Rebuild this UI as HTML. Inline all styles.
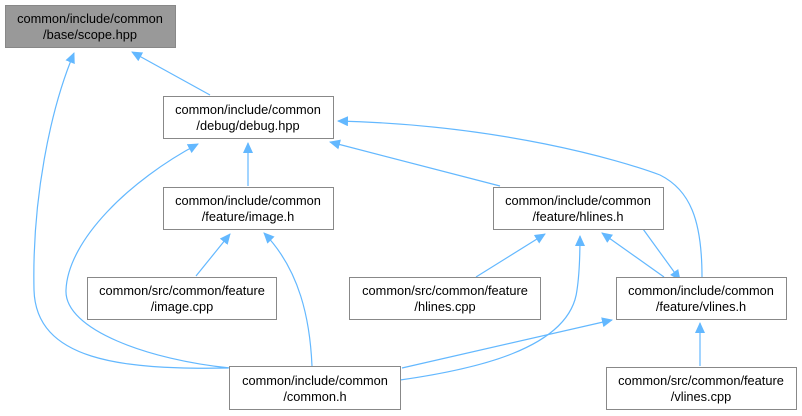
<!DOCTYPE html>
<html><head><meta charset="utf-8"><style>
html,body{margin:0;padding:0;background:#fff;width:802px;height:416px;overflow:hidden}
svg{display:block}
text{font-family:"Liberation Sans",Arial,sans-serif;font-size:12.8px;fill:#000}
</style></head><body>
<svg width="802" height="416" viewBox="0 0 802 416" xmlns="http://www.w3.org/2000/svg">
<defs>
<marker id="a" markerWidth="12" markerHeight="12" refX="10" refY="5" orient="auto" markerUnits="userSpaceOnUse">
<path d="M0,0 L11,5 L0,10 z" fill="#63b8ff"/>
</marker>
</defs>
<g fill="none" stroke="#63b8ff" stroke-width="1.2" marker-end="url(#a)">
<path d="M210,95 L132,52"/>
<path d="M228,368 C120,370 36,360 34,290 C32,200 50,110 74,53"/>
<path d="M248,186 L248,143"/>
<path d="M230,368 C150,360 64,330 66,290 C68,240 130,180 198,144"/>
<path d="M500,186 L330,142"/>
<path d="M702,277 C702,220 690,190 660,175 C620,160 500,125 338,121"/>
<path d="M196,276 L230,234"/>
<path d="M312,366 C310,320 300,270 264,233"/>
<path d="M476,277 L545,234"/>
<path d="M400,380 C470,370 570,350 577,290 C580,270 580,250 580,236"/>
<path d="M664,277 L602,233"/>
<path d="M614,189 L680,280"/>
<path d="M402,368 L612,320"/>
<path d="M700,366 L700,323"/>
</g>
<g stroke="#888" stroke-width="1">
<rect x="5.5" y="5.5" width="170" height="42" fill="#999"/>
<rect x="163.5" y="96.5" width="170" height="42" fill="#fff"/>
<rect x="163.5" y="187.5" width="170" height="42" fill="#fff"/>
<rect x="493.5" y="187.5" width="170" height="42" fill="#fff"/>
<rect x="87.5" y="277.5" width="189" height="42" fill="#fff"/>
<rect x="349.5" y="277.5" width="191" height="42" fill="#fff"/>
<rect x="616.5" y="277.5" width="170" height="42" fill="#fff"/>
<rect x="229.5" y="366.5" width="171" height="43" fill="#fff"/>
<rect x="606.5" y="367.5" width="190" height="42" fill="#fff"/>
</g>
<g text-anchor="middle">
<text x="90" y="23">common/include/common</text><text x="90" y="39">/base/scope.hpp</text>
<text x="248" y="114">common/include/common</text><text x="248" y="130">/debug/debug.hpp</text>
<text x="248" y="205">common/include/common</text><text x="248" y="221">/feature/image.h</text>
<text x="578" y="205">common/include/common</text><text x="578" y="221">/feature/hlines.h</text>
<text x="182" y="295">common/src/common/feature</text><text x="182" y="311">/image.cpp</text>
<text x="445" y="295">common/src/common/feature</text><text x="445" y="311">/hlines.cpp</text>
<text x="701" y="295">common/include/common</text><text x="701" y="311">/feature/vlines.h</text>
<text x="315" y="385">common/include/common</text><text x="315" y="401">/common.h</text>
<text x="701" y="385">common/src/common/feature</text><text x="701" y="401">/vlines.cpp</text>
</g>
</svg>
</body></html>
